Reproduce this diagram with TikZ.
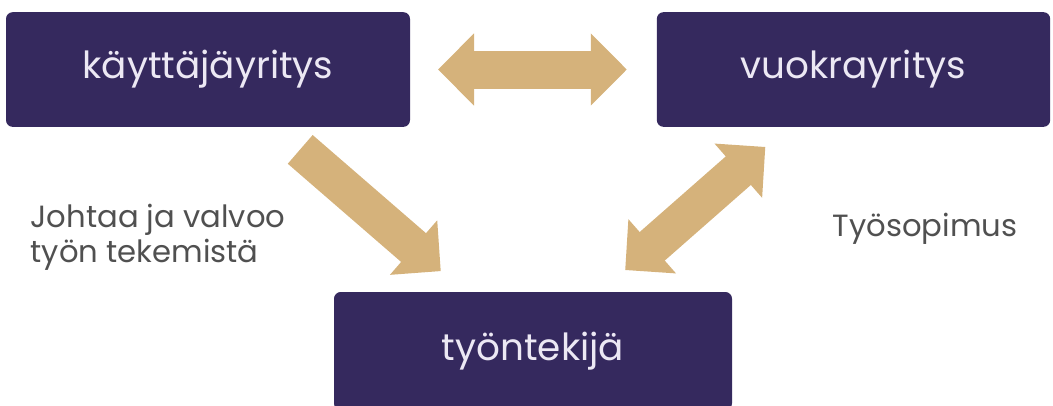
\documentclass[tikz,border=0pt]{standalone}
\usepackage{fontspec}
\setmainfont{Poppins}
\usetikzlibrary{arrows.meta}
\definecolor{boxpurple}{HTML}{35295E}
\definecolor{arrowtan}{HTML}{D5B27B}
\definecolor{boxtext}{HTML}{ECE8F4}
\definecolor{labelgray}{HTML}{505050}

\begin{document}
\begin{tikzpicture}[
    x=0.75pt, y=-0.75pt,
    company/.style={rectangle, rounded corners=5pt, fill=boxpurple, text=boxtext, minimum height=86pt, font=\fontsize{28}{32}\selectfont, text centered},
    label/.style={text=labelgray, font=\fontsize{23}{26}\selectfont, align=left},
    bigarrow/.style={draw=arrowtan, line width=28.5pt},
]
\useasboundingbox (0,0) rectangle (1053,405);

% Companies and employee
\node (user) [company, minimum width=303pt] at (208,69.5) {käyttäjäyritys};
\node (agency) [company, minimum width=295pt] at (853.5,69.5) {vuokrayritys};
\node (worker) [company, minimum width=298.5pt, minimum height=88.5pt] at (533,351) {työntekijä};

% Relations
\draw [bigarrow, {Triangle[length=27pt, width=52.5pt]}-{Triangle[length=27pt, width=52.5pt]}, shorten <=172.5pt, shorten >=170pt] (user.center) -- (agency.center);
\draw [bigarrow, -{Triangle[length=27pt, width=52.5pt]}, shorten <=91.5pt, shorten >=91.5pt] (user.center) -- (worker.center);
\draw [bigarrow, {Triangle[length=27pt, width=52.5pt]}-{Triangle[length=27pt, width=52.5pt]}, shorten <=92pt, shorten >=88pt] (worker.center) -- (agency.center);

% Labels
\node (lead) [label] at (158,237) {Johtaa ja valvoo\\työn tekemistä};
\node (contract) [label] at (925,229) {Työsopimus};

\end{tikzpicture}
\end{document}
